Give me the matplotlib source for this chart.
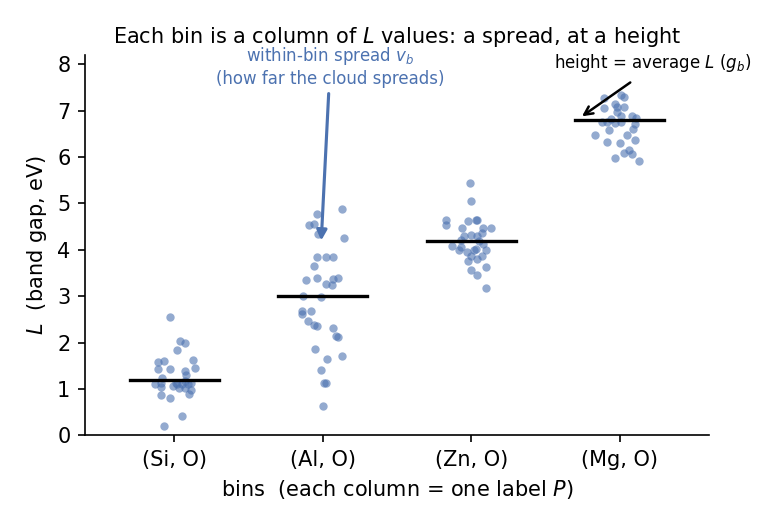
import matplotlib
matplotlib.use("Agg")
import matplotlib.pyplot as plt
import numpy as np

categories = ["(Si, O)", "(Al, O)", "(Zn, O)", "(Mg, O)"]

# L values per bin (eV)
L_si = [2.54, 2.03, 1.98, 1.83, 1.57, 1.61, 1.62, 1.42, 1.43, 1.45, 1.38, 1.29, 1.24,
        1.10, 1.13, 1.03, 1.06, 1.11, 1.02, 1.11, 1.01, 1.10, 1.12, 0.98, 0.88, 0.86,
        0.80, 0.41, 0.19, 1.16, 1.13]
L_al = [4.87, 4.77, 4.56, 4.53, 4.35, 4.26, 3.85, 3.85, 3.85, 3.64, 3.34, 3.40, 3.38,
        3.40, 3.26, 3.25, 3.01, 2.98, 2.68, 2.61, 2.67, 2.47, 2.37, 2.35, 2.31, 2.13,
        2.12, 1.86, 1.64, 1.71, 1.41, 1.13, 1.12, 0.64]
L_zn = [5.44, 5.05, 4.65, 4.53, 4.62, 4.64, 4.64, 4.46, 4.46, 4.47, 4.36, 4.29, 4.31,
        4.29, 4.22, 4.19, 4.09, 4.05, 3.99, 4.12, 3.95, 3.99, 4.01, 3.99, 3.86, 3.86,
        3.80, 3.76, 3.63, 3.56, 3.45, 3.17]
L_mg = [7.35, 7.30, 7.28, 7.14, 7.09, 7.09, 7.07, 6.98, 6.88, 6.88, 6.84, 6.83, 6.75,
        6.75, 6.74, 6.76, 6.72, 6.61, 6.58, 6.47, 6.48, 6.36, 6.32, 6.30, 6.15, 6.09,
        6.07, 5.99, 5.91]

# horizontal jitter (category units)
jit_si = [-0.03, 0.04, 0.07, 0.02, -0.11, -0.07, 0.13, -0.11, -0.03, 0.14, 0.07, 0.08,
          -0.08, -0.13, -0.09, -0.09, -0.01, 0.02, 0.03, 0.05, 0.07, 0.09, 0.11, 0.11,
          0.10, -0.09, -0.03, 0.05, -0.07, 0.07, 0.01]
jit_al = [0.13, -0.04, -0.06, -0.09, -0.03, 0.14, -0.04, 0.02, 0.07, -0.06, -0.11,
          -0.04, 0.07, 0.10, 0.02, 0.06, -0.13, -0.01, -0.14, -0.14, -0.08, -0.10,
          -0.06, -0.04, 0.07, 0.09, 0.10, -0.05, 0.03, 0.13, -0.01, 0.01, 0.02, 0.00]
jit_zn = [-0.01, 0.00, -0.17, -0.17, -0.02, 0.03, 0.04, -0.06, 0.08, 0.13, 0.07, -0.05,
          0.00, 0.04, -0.07, 0.05, -0.13, -0.07, -0.08, 0.08, -0.03, 0.02, 0.03, 0.10,
          0.00, 0.07, 0.04, -0.02, 0.10, 0.00, 0.04, 0.10]
jit_mg = [0.01, 0.03, -0.11, -0.03, -0.02, 0.03, -0.11, -0.02, 0.01, 0.08, 0.11, -0.06,
          -0.12, -0.09, -0.03, 0.01, 0.10, 0.09, -0.07, -0.17, 0.05, 0.10, -0.09, 0.00,
          0.06, 0.03, 0.08, -0.03, 0.13]

bin_heights = [1.2, 3.0, 4.2, 6.8]

values = [L_si, L_al, L_zn, L_mg]
jitters = [jit_si, jit_al, jit_zn, jit_mg]

blue = "#4C72B0"

fig = plt.figure(figsize=(5.2, 3.5), dpi=150)
ax = fig.add_axes([0.109, 0.171, 0.800, 0.724])

for i, (vals, jit) in enumerate(zip(values, jitters)):
    x = i + np.asarray(jit)
    ax.scatter(x, vals, s=16, color=blue, alpha=0.6, linewidths=0, zorder=2)
    ax.plot([i - 0.3, i + 0.3], [bin_heights[i], bin_heights[i]], color="black",
            lw=1.6, zorder=3)

ax.set_xlim(-0.6, 3.6)
ax.set_ylim(0, 8.2)
ax.set_xticks(range(len(categories)))
ax.set_xticklabels(categories)
ax.set_yticks(range(0, 9))
ax.spines["top"].set_visible(False)
ax.spines["right"].set_visible(False)

ax.set_title("Each bin is a column of $L$ values: a spread, at a height", fontsize=10)
ax.set_xlabel("bins  (each column = one label $P$)", fontsize=10)
ax.set_ylabel("$L$  (band gap, eV)", fontsize=10)

ax.annotate("", xy=(0.99, 4.2), xytext=(1.04, 7.37),
            arrowprops=dict(arrowstyle="-|>", color=blue, lw=1.5,
                            shrinkA=0, shrinkB=0), zorder=4)
ax.text(1.05, 7.96, "within-bin spread $v_b$\n(how far the cloud spreads)",
        color=blue, fontsize=8, ha="center", va="center")

ax.annotate("", xy=(2.745, 6.88), xytext=(3.07, 7.61),
            arrowprops=dict(arrowstyle="->", color="black", lw=1.2,
                            shrinkA=0, shrinkB=0), zorder=4)
ax.text(3.22, 8.02, "height = average $L$ ($g_b$)", color="black", fontsize=8,
        ha="center", va="center")

fig.savefig("out.png", dpi=150)
